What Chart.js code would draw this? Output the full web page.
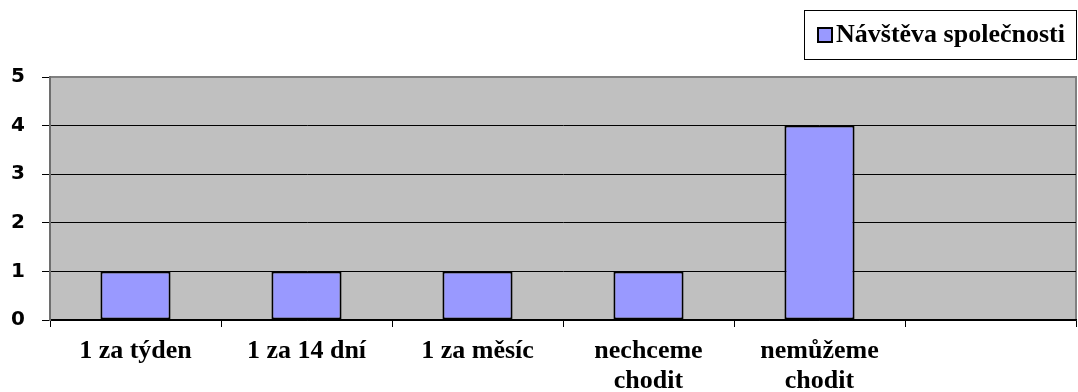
<!DOCTYPE html>
<html>
<head>
<meta charset="utf-8">
<script src="https://cdn.jsdelivr.net/npm/chart.js@4/dist/chart.umd.min.js"></script>
<style>
  html, body { margin: 0; padding: 0; background: #ffffff; }
  #wrap { width: 1078px; height: 392px; position: relative; }
</style>
</head>
<body>
<div id="wrap"><canvas id="c" width="1078" height="392"></canvas></div>
<script>
// Frequency of company visits (answer counts)
const categories = ['1 za týden', '1 za 14 dní', '1 za měsíc', ['nechceme', 'chodit'], ['nemůžeme', 'chodit'], ''];
const visitCounts = [1, 1, 1, 1, 4, null];
const seriesName = 'Návštěva společnosti';
const yTicks = [0, 1, 2, 3, 4, 5];

const BAR_FILL = '#9999FF';
const PLOT_FILL = '#C0C0C0';
const SERIF = '"Liberation Serif", "Times New Roman", serif';
const SANS = '"DejaVu Sans", Verdana, sans-serif';

// Gray plot area with a framed border, painted beneath grid and bars
const plotBackground = {
  id: 'plotBackground',
  beforeDraw(chart) {
    const { ctx, chartArea: a } = chart;
    ctx.save();
    ctx.fillStyle = PLOT_FILL;
    ctx.fillRect(a.left, a.top, a.right - a.left, a.bottom - a.top);
    ctx.strokeStyle = '#808080';
    ctx.lineWidth = 2;
    ctx.strokeRect(a.left, a.top, a.right - a.left, a.bottom - a.top);
    ctx.restore();
  }
};

// Boxed legend in the upper right corner
const boxedLegend = {
  id: 'boxedLegend',
  afterDraw(chart) {
    const { ctx } = chart;
    const ds = chart.data.datasets[0];
    ctx.save();
    ctx.fillStyle = '#ffffff';
    ctx.fillRect(804, 10, 272, 49);
    ctx.strokeStyle = '#000000';
    ctx.lineWidth = 1;
    ctx.strokeRect(804.5, 10.5, 272, 49);
    ctx.fillStyle = ds.backgroundColor;
    ctx.fillRect(818, 28, 14, 14);
    ctx.lineWidth = 2;
    ctx.strokeStyle = '#000000';
    ctx.strokeRect(818, 28, 14, 14);
    ctx.fillStyle = '#000000';
    ctx.font = 'bold 26px ' + SERIF;
    ctx.textBaseline = 'alphabetic';
    ctx.textAlign = 'left';
    ctx.fillText(ds.label, 836, 42);
    ctx.restore();
  }
};

new Chart(document.getElementById('c'), {
  type: 'bar',
  data: {
    labels: categories,
    datasets: [{
      label: seriesName,
      data: visitCounts,
      backgroundColor: BAR_FILL,
      borderColor: '#000000',
      borderWidth: 2,
      borderSkipped: false,
      categoryPercentage: 1,
      barPercentage: 0.41
    }]
  },
  options: {
    responsive: false,
    animation: false,
    events: [],
    layout: { padding: { top: 77, right: 2, bottom: 0, left: 0 } },
    plugins: {
      legend: { display: false },
      tooltip: { enabled: false },
      title: { display: false }
    },
    scales: {
      x: {
        offset: true,
        grid: {
          offset: true,
          drawOnChartArea: false,
          drawTicks: true,
          tickLength: 7,
          tickColor: '#000000',
          color: '#000000'
        },
        border: { display: true, color: '#000000', width: 1.5 },
        ticks: {
          color: '#000000',
          padding: 9,
          maxRotation: 0,
          autoSkip: false,
          font: { family: SERIF, size: 26, weight: 'bold', lineHeight: 1.15 }
        },
        afterFit(scale) { scale.height = 72; }
      },
      y: {
        min: 0,
        max: 5,
        afterBuildTicks(scale) { scale.ticks = yTicks.map(v => ({ value: v })); },
        grid: {
          color: (c) => (c.tick && c.tick.value === 5 ? '#808080' : '#000000'),
          lineWidth: 1,
          tickLength: 8,
          tickColor: '#000000'
        },
        border: { display: true, color: '#6e6e6e', width: 2 },
        ticks: {
          color: '#000000',
          padding: 17,
          font: { family: SANS, size: 20, weight: 'bold' }
        },
        afterFit(scale) { scale.width = 50; }
      }
    }
  },
  plugins: [plotBackground, boxedLegend]
});
</script>
</body>
</html>
